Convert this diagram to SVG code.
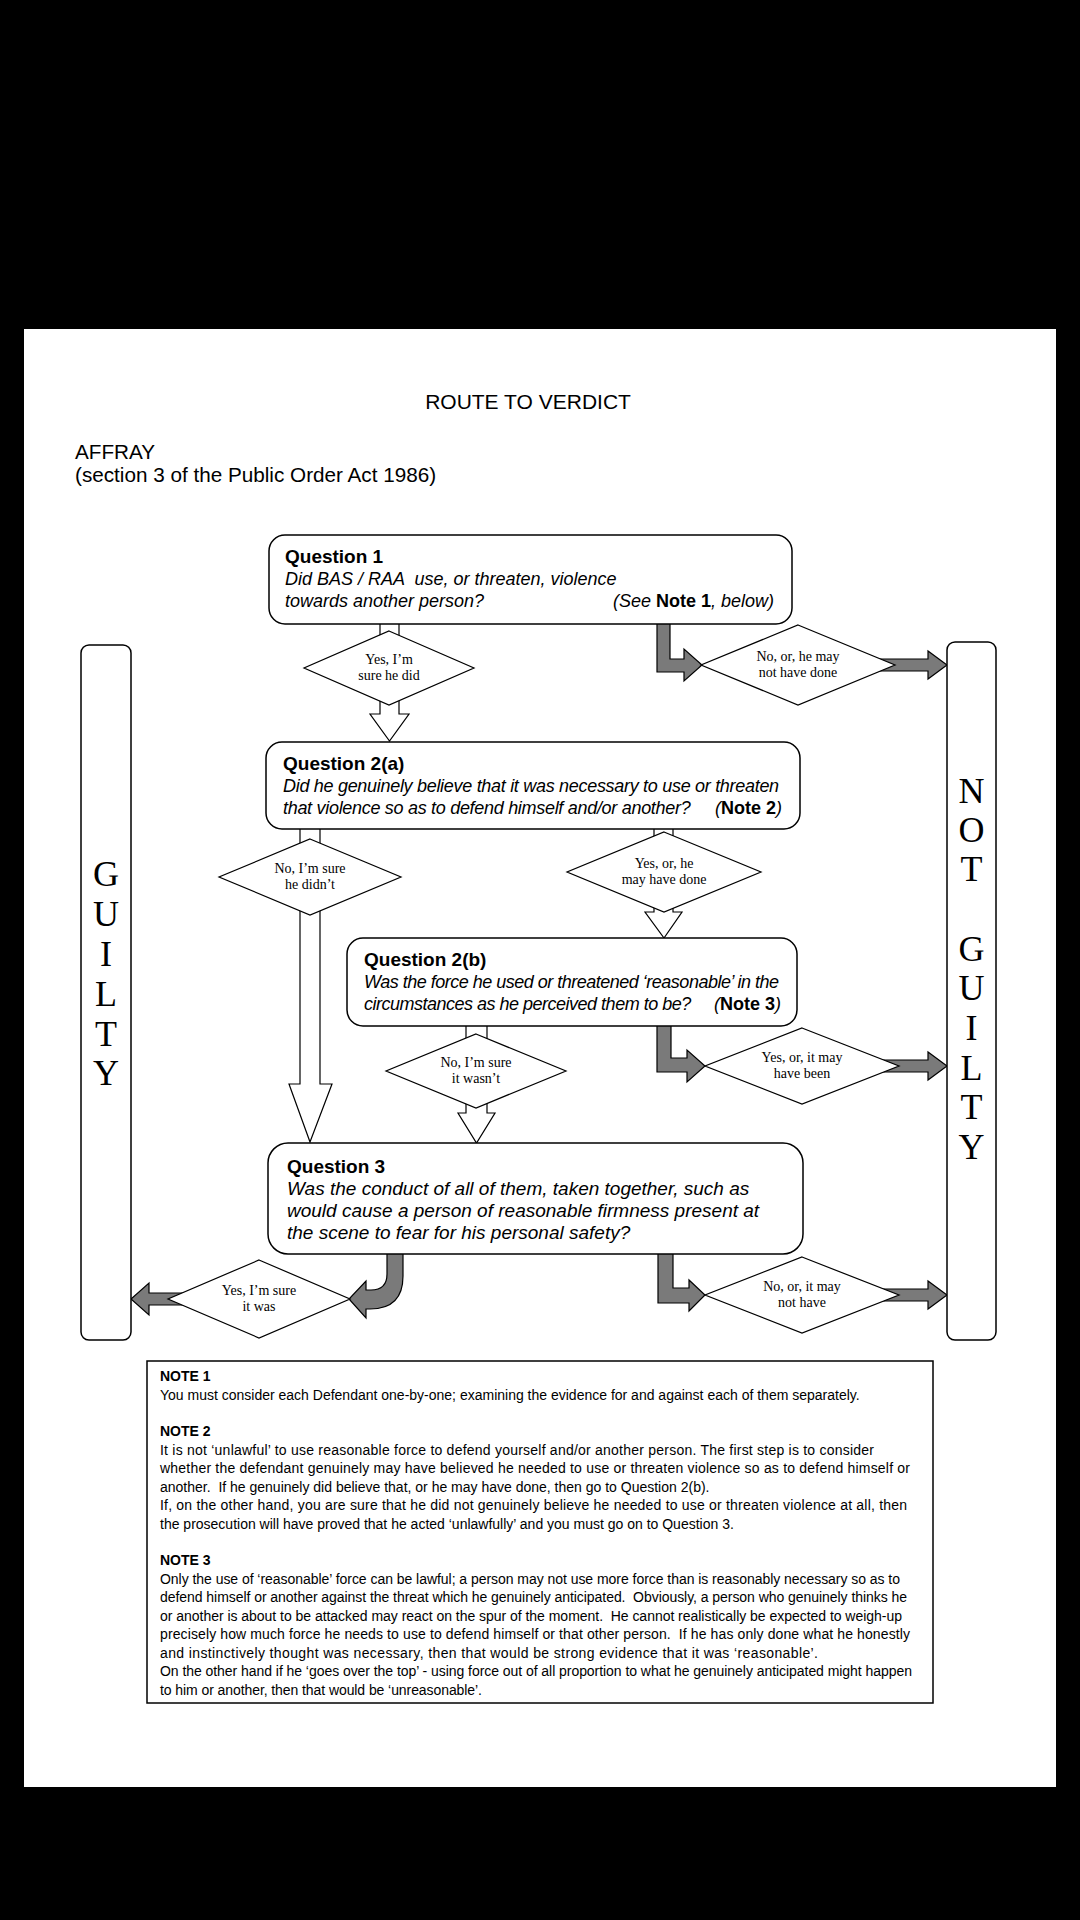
<svg xmlns="http://www.w3.org/2000/svg" width="1080" height="1920" viewBox="0 0 1080 1920">
<style>
.box{fill:#fff;stroke:#000;stroke-width:1.5}
.dia{fill:#fff;stroke:#000;stroke-width:1.2}
.ha{fill:#fff;stroke:#000;stroke-width:1.2;stroke-linejoin:miter}
.ga{fill:#7a7a7a;stroke:#000;stroke-width:1.2;stroke-linejoin:miter}
.sans{font-family:"Liberation Sans",Arial,sans-serif;fill:#000}
.qh{font-family:"Liberation Sans",Arial,sans-serif;font-weight:bold;font-size:19px}
.qi{font-family:"Liberation Sans",Arial,sans-serif;font-style:italic;font-size:18px}
.q3i{font-family:"Liberation Sans",Arial,sans-serif;font-style:italic;font-size:19px}
.b{font-weight:bold;font-style:normal}
.dt{font-family:"Liberation Serif","Times New Roman",serif;font-size:14px;text-anchor:middle}
.big{font-family:"Liberation Serif","Times New Roman",serif;font-size:36px;text-anchor:middle}
.note{font-family:"Liberation Sans",Arial,sans-serif;font-size:14px;white-space:pre}
</style>
<rect x="0" y="0" width="1080" height="1920" fill="#000"/>
<rect x="24" y="329" width="1032" height="1458" fill="#fff"/>

<g id="header">
<text class="sans" x="528" y="409" font-size="21" text-anchor="middle">ROUTE TO VERDICT</text>
<text class="sans" x="75" y="459" font-size="20.7">AFFRAY</text>
<text class="sans" x="75" y="482" font-size="20.7">(section 3 of the Public Order Act 1986)</text>
</g>

<g id="connectors">
<path class="ha" d="M380 622 L399 622 L399 714 L409 714 L389.5 741 L370 714 L380 714 Z"/>
<path class="ha" d="M300 827 L320 827 L320 1084 L332 1084 L310 1142 L289 1084 L300 1084 Z"/>
<path class="ha" d="M654 827 L673 827 L673 912 L682 912 L664 938 L645 912 L654 912 Z"/>
<path class="ha" d="M466 1024 L487 1024 L487 1113 L495 1113 L476.5 1143 L458 1113 L466 1113 Z"/>
<path class="ga" d="M657 622 L670 622 L670 659 L684 659 L684 649 L702 665 L684 681 L684 672 L657 672 Z"/>
<path class="ga" d="M880 659 L928 659 L928 651 L947 665 L928 679 L928 671 L880 671 Z"/>
<path class="ga" d="M657 1024 L671 1024 L671 1058 L687 1058 L687 1050 L705 1066 L687 1082 L687 1072 L657 1072 Z"/>
<path class="ga" d="M882 1060 L928 1060 L928 1052 L947 1066 L928 1080 L928 1072 L882 1072 Z"/>
<path class="ga" d="M658 1252 L673 1252 L673 1288 L689 1288 L689 1280 L705 1295 L689 1311 L689 1303 L658 1303 Z"/>
<path class="ga" d="M882 1289 L928 1289 L928 1281 L947 1295 L928 1309 L928 1301 L882 1301 Z"/>
<path class="ga" d="M387 1252 L403 1252 L403 1276 Q403 1309 370 1309 L366 1309 L366 1318 L349 1299 L366 1281 L366 1290 L371 1290 Q387 1290 387 1274 Z"/>
<path class="ga" d="M188 1293 L149 1293 L149 1283 L131 1299 L149 1315 L149 1305 L188 1305 Z"/>
</g>

<g id="q1">
<rect class="box" x="269" y="535" width="523" height="89" rx="16"/>
<text class="qh" x="285" y="563">Question 1</text>
<text class="qi" x="285" y="585" xml:space="preserve">Did BAS / RAA  use, or threaten, violence</text>
<text class="qi" x="285" y="607">towards another person?</text>
<text class="qi" x="774" y="607" text-anchor="end" xml:space="preserve">(See <tspan class="b">Note 1</tspan>, below)</text>
</g>

<g id="yes1">
<polygon class="dia" points="389,631 474,668 389,705 304,668"/>
<text class="dt" x="389" y="664">Yes, I’m</text>
<text class="dt" x="389" y="680">sure he did</text>
</g>

<g id="no1">
<polygon class="dia" points="798,625 895,665 798,705 701,665"/>
<text class="dt" x="798" y="661">No, or, he may</text>
<text class="dt" x="798" y="677">not have done</text>
</g>

<g id="q2a">
<rect class="box" x="266" y="742" width="534" height="87" rx="16"/>
<text class="qh" x="283" y="770">Question 2(a)</text>
<text class="qi" x="283" y="792" letter-spacing="-0.3">Did he genuinely believe that it was necessary to use or threaten</text>
<text class="qi" x="283" y="814" letter-spacing="-0.3">that violence so as to defend himself and/or another?</text>
<text class="qi" x="782" y="814" text-anchor="end">(<tspan class="b">Note 2</tspan>)</text>
</g>

<g id="no2a">
<polygon class="dia" points="310,839 401,877 310,915 219,877"/>
<text class="dt" x="310" y="873">No, I’m sure</text>
<text class="dt" x="310" y="889">he didn’t</text>
</g>

<g id="yes2a">
<polygon class="dia" points="664,832 761,872 664,912 567,872"/>
<text class="dt" x="664" y="868">Yes, or, he</text>
<text class="dt" x="664" y="884">may have done</text>
</g>

<g id="q2b">
<rect class="box" x="347" y="938" width="450" height="88" rx="16"/>
<text class="qh" x="364" y="966">Question 2(b)</text>
<text class="qi" x="364" y="988" letter-spacing="-0.5">Was the force he used or threatened ‘reasonable’ in the</text>
<text class="qi" x="364" y="1010" letter-spacing="-0.5">circumstances as he perceived them to be?</text>
<text class="qi" x="781" y="1010" text-anchor="end">(<tspan class="b">Note 3</tspan>)</text>
</g>

<g id="no2b">
<polygon class="dia" points="476,1034 566,1071 476,1108 386,1071"/>
<text class="dt" x="476" y="1067">No, I’m sure</text>
<text class="dt" x="476" y="1083">it wasn’t</text>
</g>

<g id="yes2b">
<polygon class="dia" points="802,1028 899,1066 802,1104 705,1066"/>
<text class="dt" x="802" y="1062">Yes, or, it may</text>
<text class="dt" x="802" y="1078">have been</text>
</g>

<g id="q3">
<rect class="box" x="268" y="1143" width="535" height="111" rx="20"/>
<text class="qh" x="287" y="1173">Question 3</text>
<text class="q3i" x="287" y="1195">Was the conduct of all of them, taken together, such as</text>
<text class="q3i" x="287" y="1217">would cause a person of reasonable firmness present at</text>
<text class="q3i" x="287" y="1239">the scene to fear for his personal safety?</text>
</g>

<g id="yes3">
<polygon class="dia" points="259,1260 350,1299 259,1338 168,1299"/>
<text class="dt" x="259" y="1295">Yes, I’m sure</text>
<text class="dt" x="259" y="1311">it was</text>
</g>

<g id="no3">
<polygon class="dia" points="802,1257 899,1295 802,1333 705,1295"/>
<text class="dt" x="802" y="1291">No, or, it may</text>
<text class="dt" x="802" y="1307">not have</text>
</g>

<g id="guilty">
<rect class="box" x="81" y="645" width="50" height="695" rx="8"/>
<text class="big" x="106" y="886">G</text>
<text class="big" x="106" y="926">U</text>
<text class="big" x="106" y="966">I</text>
<text class="big" x="106" y="1006">L</text>
<text class="big" x="106" y="1046">T</text>
<text class="big" x="106" y="1085">Y</text>
</g>

<g id="not-guilty">
<rect class="box" x="947" y="642" width="49" height="698" rx="8"/>
<text class="big" x="971.5" y="803">N</text>
<text class="big" x="971.5" y="842">O</text>
<text class="big" x="971.5" y="881">T</text>
<text class="big" x="971.5" y="961">G</text>
<text class="big" x="971.5" y="1000">U</text>
<text class="big" x="971.5" y="1040">I</text>
<text class="big" x="971.5" y="1080">L</text>
<text class="big" x="971.5" y="1119">T</text>
<text class="big" x="971.5" y="1159">Y</text>
</g>

<g id="notes">
<rect x="147" y="1361" width="786" height="342" fill="#fff" stroke="#000" stroke-width="1.5"/>
<text class="note" x="160" y="1381" font-weight="bold">NOTE 1</text>
<text class="note" x="160" y="1399.5">You must consider each Defendant one-by-one; examining the evidence for and against each of them separately.</text>
<text class="note" x="160" y="1436" font-weight="bold">NOTE 2</text>
<text class="note" x="160" y="1454.5" textLength="714">It is not ‘unlawful’ to use reasonable force to defend yourself and/or another person. The first step is to consider</text>
<text class="note" x="160" y="1473" textLength="750">whether the defendant genuinely may have believed he needed to use or threaten violence so as to defend himself or</text>
<text class="note" x="160" y="1491.5" xml:space="preserve">another.  If he genuinely did believe that, or he may have done, then go to Question 2(b).</text>
<text class="note" x="160" y="1510" textLength="747">If, on the other hand, you are sure that he did not genuinely believe he needed to use or threaten violence at all, then</text>
<text class="note" x="160" y="1528.5">the prosecution will have proved that he acted ‘unlawfully’ and you must go on to Question 3.</text>
<text class="note" x="160" y="1565" font-weight="bold">NOTE 3</text>
<text class="note" x="160" y="1583.5" textLength="740">Only the use of ‘reasonable’ force can be lawful; a person may not use more force than is reasonably necessary so as to</text>
<text class="note" x="160" y="1602" textLength="747" xml:space="preserve">defend himself or another against the threat which he genuinely anticipated.  Obviously, a person who genuinely thinks he</text>
<text class="note" x="160" y="1620.5" textLength="742" xml:space="preserve">or another is about to be attacked may react on the spur of the moment.  He cannot realistically be expected to weigh-up</text>
<text class="note" x="160" y="1639" textLength="750" xml:space="preserve">precisely how much force he needs to use to defend himself or that other person.  If he has only done what he honestly</text>
<text class="note" x="160" y="1657.5" textLength="658">and instinctively thought was necessary, then that would be strong evidence that it was ‘reasonable’.</text>
<text class="note" x="160" y="1676" textLength="752">On the other hand if he ‘goes over the top’ - using force out of all proportion to what he genuinely anticipated might happen</text>
<text class="note" x="160" y="1694.5" textLength="322">to him or another, then that would be ‘unreasonable’.</text>
</g>
</svg>
